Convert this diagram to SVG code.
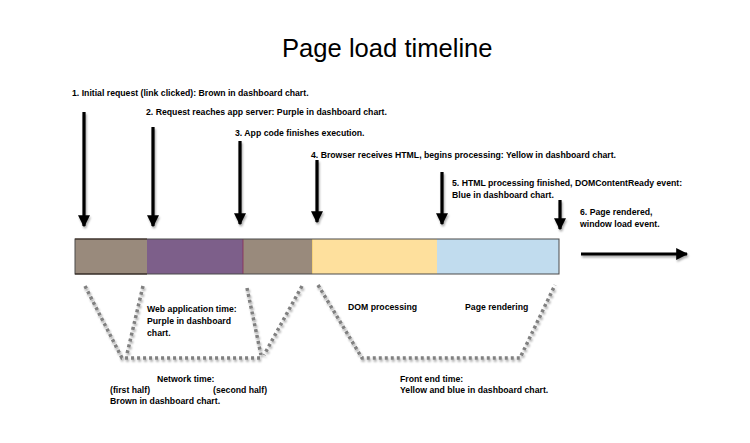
<svg xmlns="http://www.w3.org/2000/svg" width="750" height="443" viewBox="0 0 750 443">
<style>
.t{font-family:"Liberation Sans",Arial,sans-serif;font-weight:bold;font-size:8.7px;fill:#000}
.title{font-family:"Liberation Sans",Arial,sans-serif;font-size:25.6px;fill:#000}
.arr{stroke:#000;stroke-width:3.2;fill:none}
.dot{stroke:#808080;stroke-width:3.5;stroke-dasharray:3 3;fill:none}
</style>
<defs>
<marker id="ah" viewBox="0 0 10 10" refX="9" refY="5" markerWidth="12" markerHeight="12" markerUnits="userSpaceOnUse" orient="auto">
<path d="M0,0 L10,5 L0,10 z" fill="#000"/>
</marker>
<filter id="sh" x="-20%" y="-20%" width="140%" height="140%">
<feGaussianBlur in="SourceAlpha" stdDeviation="1"/>
<feOffset dx="1" dy="1.5"/>
<feComponentTransfer><feFuncA type="linear" slope="0.35"/></feComponentTransfer>
<feMerge><feMergeNode/><feMergeNode in="SourceGraphic"/></feMerge>
</filter>
</defs>
<rect width="750" height="443" fill="#fff"/>
<text class="title" x="282" y="57">Page load timeline</text>

<g id="timeline-bar">
<rect x="75" y="239" width="72" height="35" fill="#998a7c"/>
<rect x="147" y="239" width="96" height="35" fill="#7d5f8a"/>
<rect x="243" y="239" width="69" height="35" fill="#998a7c"/>
<rect x="312" y="239" width="125" height="35" fill="#fee09d"/>
<rect x="437" y="239" width="122" height="35" fill="#c1dcee"/>
<line x1="243" y1="239" x2="243" y2="274" stroke="#8a2a55" stroke-width="0.8"/>
<line x1="312.5" y1="239" x2="312.5" y2="274" stroke="#f5d27a" stroke-width="1"/>
<rect x="75" y="239" width="484" height="35" fill="none" stroke="#4a4a4a" stroke-width="1"/>
<line x1="75" y1="274" x2="147" y2="274" stroke="#2a1d15" stroke-width="1.2"/>
<line x1="75" y1="239" x2="147" y2="239" stroke="#3a2a20" stroke-width="1.2"/>
</g>

<g id="connectors" filter="url(#sh)">
<line class="arr" x1="84" y1="112" x2="84" y2="226" marker-end="url(#ah)"/>
<line class="arr" x1="153" y1="127" x2="153" y2="226" marker-end="url(#ah)"/>
<line class="arr" x1="240" y1="141" x2="240" y2="224" marker-end="url(#ah)"/>
<line class="arr" x1="317" y1="160" x2="317" y2="222" marker-end="url(#ah)"/>
<line class="arr" x1="442" y1="172" x2="442" y2="224" marker-end="url(#ah)"/>
<line class="arr" x1="560" y1="200" x2="560" y2="229" marker-end="url(#ah)"/>
<line class="arr" x1="581" y1="254" x2="687" y2="254" marker-end="url(#ah)"/>
</g>

<g id="brackets" filter="url(#sh)">
<path class="dot" d="M85,286 L122,358 L263,358"/>
<path class="dot" d="M143,286 L127,354"/>
<path class="dot" d="M247,288 L261,355"/>
<path class="dot" d="M302,286 L264,355"/>
<path class="dot" d="M318,285 L362,358 L520,358 L555,285"/>
</g>

<g id="label1"><text class="t" x="72" y="96">1. Initial request (link clicked): Brown in dashboard chart.</text></g>
<g id="label2"><text class="t" x="146" y="115">2. Request reaches app server: Purple in dashboard chart.</text></g>
<g id="label3"><text class="t" x="235" y="136">3. App code finishes execution.</text></g>
<g id="label4"><text class="t" x="311" y="158">4. Browser receives HTML, begins processing: Yellow in dashboard chart.</text></g>
<g id="label5"><text class="t" x="452" y="186">5. HTML processing finished, DOMContentReady event:</text><text class="t" x="452" y="198">Blue in dashboard chart.</text></g>
<g id="label6"><text class="t" x="580" y="215">6. Page rendered,</text><text class="t" x="580" y="227">window load event.</text></g>

<g id="web-app-time"><text class="t" x="147" y="312">Web application time:</text><text class="t" x="147" y="324">Purple in dashboard</text><text class="t" x="147" y="336">chart.</text></g>
<g id="network-time"><text class="t" x="157" y="382">Network time:</text><text class="t" x="110" y="393">(first half)</text><text class="t" x="213" y="393">(second half)</text><text class="t" x="110" y="404">Brown in dashboard chart.</text></g>
<g id="dom-processing"><text class="t" x="348" y="310">DOM processing</text></g>
<g id="page-rendering"><text class="t" x="465" y="310">Page rendering</text></g>
<g id="front-end-time"><text class="t" x="400" y="382">Front end time:</text><text class="t" x="400" y="393">Yellow and blue in dashboard chart.</text></g>
</svg>
